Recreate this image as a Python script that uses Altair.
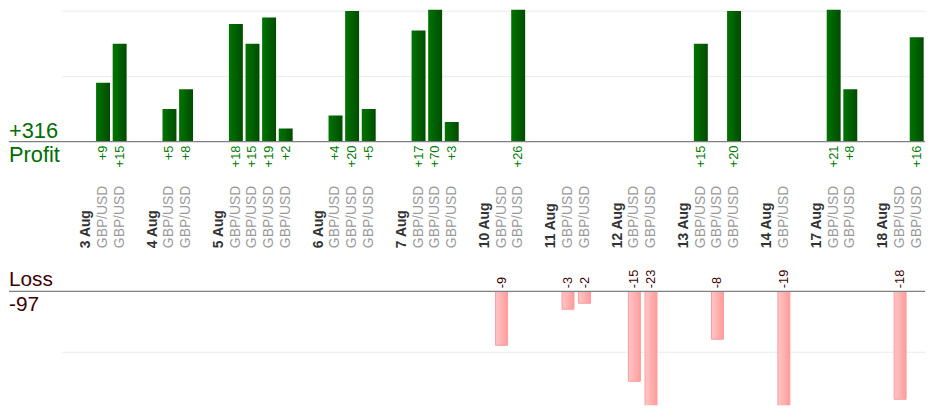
import altair as alt
import pandas as pd

# ---- data ----
dates = ["3 Aug", "4 Aug", "5 Aug", "6 Aug", "7 Aug", "10 Aug",
         "11 Aug", "12 Aug", "13 Aug", "14 Aug", "17 Aug", "18 Aug"]
results = [
    [9, 15],
    [5, 8],
    [18, 15, 19, 2],
    [4, 20, 5],
    [17, 70, 3],
    [-9, 26],
    [-3, -2],
    [-15, -23],
    [15, -8, 20],
    [-19],
    [21, 8],
    [-18, 16],
]
pair = "GBP/USD"

# ---- build slot table ----
keys = ["00|"]
rows = []
for di, (d, res) in enumerate(zip(dates, results)):
    keys.append(f"{len(keys):02d}|{d}")
    for v in res:
        k = f"{len(keys):02d}|{pair}"
        keys.append(k)
        rows.append({"key": k, "value": v,
                     "txt": (f"+{v}" if v > 0 else f"{v}")})
    if di < len(dates) - 1:
        keys.append(f"{len(keys):02d}|")
df = pd.DataFrame(rows)
total_profit = int(df.loc[df.value > 0, "value"].sum())
total_loss = int(df.loc[df.value < 0, "value"].sum())

PW = 871
GREEN_TXT = "#006e00"
LOSS_TXT = "#3c0000"
FONT = "Liberation Sans"

green = alt.Gradient(gradient="linear", x1=0, x2=1, y1=0, y2=0,
                     stops=[alt.GradientStop(color="#007400", offset=0),
                            alt.GradientStop(color="#004c00", offset=1)])
pink = alt.Gradient(gradient="linear", x1=0, x2=1, y1=0, y2=0,
                    stops=[alt.GradientStop(color="#ffc6c6", offset=0),
                           alt.GradientStop(color="#ff9c9c", offset=1)])

x_top = alt.X("key:N",
              scale=alt.Scale(domain=keys, paddingInner=0.16, paddingOuter=0.08),
              axis=alt.Axis(title=None, ticks=False, domain=False, grid=False,
                            labelAngle=270, labelAlign="left", labelBaseline="middle",
                            labelPadding=107, labelFontSize=14, labelFont=FONT,
                            labelOverlap=False, labelLimit=200,
                            labelExpr="split(datum.value, '|')[1]",
                            labelColor={"condition": {"test": "indexof(datum.value, 'Aug') >= 0",
                                                      "value": "#333333"},
                                        "value": "#9a9a9a"},
                            labelFontWeight={"condition": {"test": "indexof(datum.value, 'Aug') >= 0",
                                                           "value": "bold"},
                                             "value": "normal"}))
y_top = alt.Y("value:Q", scale=alt.Scale(domain=[0, 20.2], nice=False, zero=True),
              axis=alt.Axis(values=[10, 20], grid=True, gridColor="#ebebeb",
                            labels=False, ticks=False, domain=False, title=None))

base_top = alt.Chart(df).transform_filter("datum.value > 0")
bars_top = base_top.mark_bar(fill=green, clip=True).encode(x=x_top, y=y_top)
text_top = base_top.mark_text(angle=270, align="right", baseline="middle", dx=-4,
                              fontSize=13, font=FONT, color="#007a00").encode(
    x=x_top, y=alt.datum(0), text="txt:N")
one = pd.DataFrame({"v": [0]})
rule_top = alt.Chart(one).mark_rule(color="#808080", strokeWidth=1.3).encode(
    y=alt.Y("v:Q"), x=alt.value(-53), x2=alt.value(PW))
tot_top1 = alt.Chart(one).mark_text(
    align="left", baseline="alphabetic", fontSize=22, font=FONT, color=GREEN_TXT,
    dy=-4, text=f"+{total_profit}").encode(x=alt.value(-53), y=alt.Y("v:Q"))
tot_top2 = alt.Chart(one).mark_text(
    align="left", baseline="alphabetic", fontSize=22, font=FONT, color=GREEN_TXT,
    dy=21, text="Profit").encode(x=alt.value(-53), y=alt.Y("v:Q"))

top = alt.layer(bars_top, rule_top, text_top, tot_top1, tot_top2).properties(width=PW, height=133)

x_bot = alt.X("key:N",
              scale=alt.Scale(domain=keys, paddingInner=0.28, paddingOuter=0.14),
              axis=None)
y_bot = alt.Y("value:Q", scale=alt.Scale(domain=[-19, 0], nice=False),
              axis=alt.Axis(values=[-10], grid=True, gridColor="#ebebeb",
                            labels=False, ticks=False, domain=False, title=None))
base_bot = alt.Chart(df).transform_filter("datum.value < 0")
bars_bot = base_bot.mark_bar(fill=pink, stroke="#ff9a9a", strokeWidth=1, clip=True).encode(
    x=x_bot, y=y_bot)
text_bot = base_bot.mark_text(angle=270, align="left", baseline="middle", dx=3,
                              fontSize=13, font=FONT, color=LOSS_TXT).encode(
    x=x_bot, y=alt.datum(0), text="txt:N")
rule_bot = alt.Chart(one).mark_rule(color="#808080", strokeWidth=1.3).encode(
    y=alt.Y("v:Q"), x=alt.value(-53), x2=alt.value(PW))
tot_bot1 = alt.Chart(one).mark_text(
    align="left", baseline="alphabetic", fontSize=21, font=FONT, color=LOSS_TXT,
    dy=-5, text="Loss").encode(x=alt.value(-53), y=alt.Y("v:Q"))
tot_bot2 = alt.Chart(one).mark_text(
    align="left", baseline="alphabetic", fontSize=21, font=FONT, color=LOSS_TXT,
    dy=20, text=f"{total_loss}").encode(x=alt.value(-53), y=alt.Y("v:Q"))

bottom = alt.layer(bars_bot, rule_bot, text_bot, tot_bot1, tot_bot2).properties(width=PW, height=115)

chart = alt.vconcat(top, bottom, spacing=151, bounds="flush").resolve_scale(
    x="independent", y="independent").properties(padding=0).configure_view(stroke=None)

chart.save("out.html", embed_options={"renderer": "svg", "actions": False})
